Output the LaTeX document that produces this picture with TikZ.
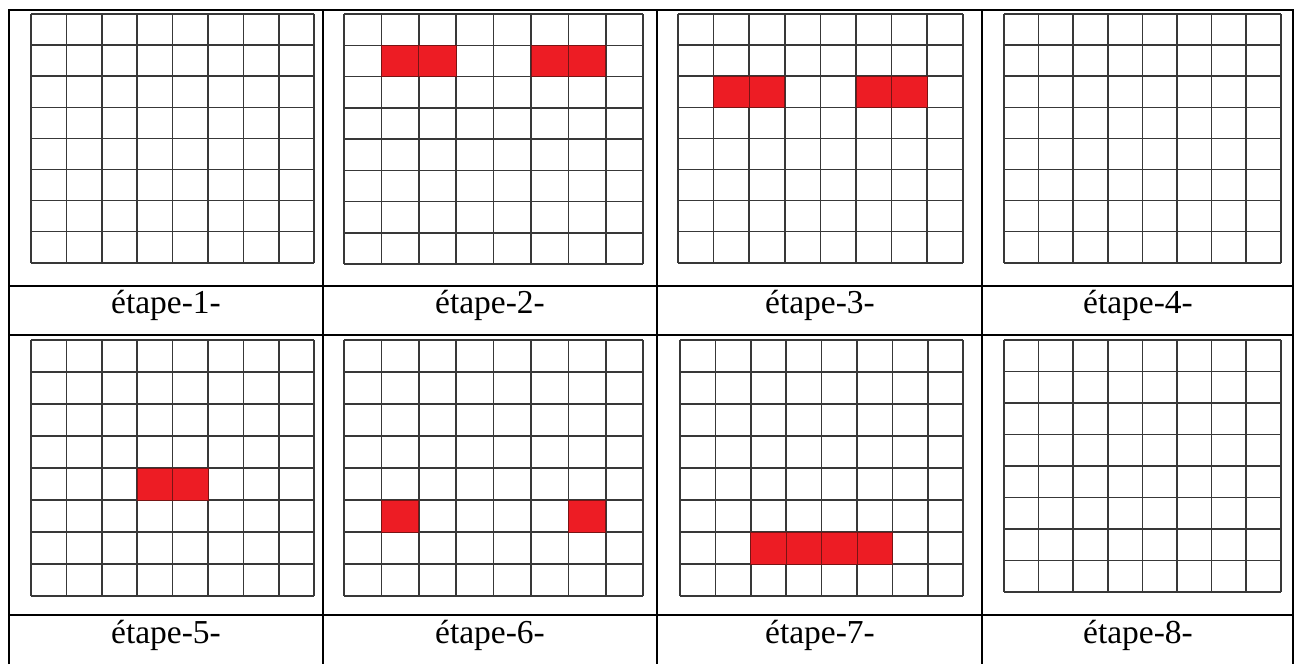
\documentclass[tikz,border=0pt]{standalone}
\usepackage{fontspec}
\setmainfont{Liberation Serif}
\tikzset{
  tableline/.style={line width=2pt, black},
  gridline/.style={line width=1.5pt, black!78},
  redcell/.style={fill={rgb,255:red,237;green,28;blue,36}, draw={rgb,255:red,120;green,20;blue,20}, line width=0.8pt},
  steplabel/.style={font=\fontsize{33.5}{36}\selectfont, inner sep=0pt, anchor=center}
}
\newcommand\mygrid[4]{%
  \begin{scope}[shift={(#1,#2)}, x=#3pt, y=-#4pt]
    \foreach \k in {0,...,8} {
      \draw[gridline] (\k,0) -- (\k,8);
      \draw[gridline] (0,\k) -- (8,\k);
    }
  \end{scope}}
\newcommand\mycell[6]{%
  \begin{scope}[shift={(#1,#2)}, x=#3pt, y=-#4pt]
    \filldraw[redcell] (#5,#6) rectangle ++(1,1);
  \end{scope}}
\begin{document}
\begin{tikzpicture}[x=1pt,y=-1pt]
\useasboundingbox (0,0) rectangle (1298,664);
\fill[white] (0,0) rectangle (1298,664);
% grids
\mygrid{31}{14}{35.4}{31.1}
\mygrid{344}{14}{37.4}{31.25}
\mygrid{678}{14}{35.6}{31.1}
\mygrid{1004}{14}{34.6}{31.1}
\mygrid{31}{340}{35.4}{32}
\mygrid{344}{340}{37.4}{32}
\mygrid{680}{340}{35.4}{32}
\mygrid{1004}{340}{34.6}{31.5}
% red cells
\mycell{344}{14}{37.4}{31.25}{1}{1}
\mycell{344}{14}{37.4}{31.25}{2}{1}
\mycell{344}{14}{37.4}{31.25}{5}{1}
\mycell{344}{14}{37.4}{31.25}{6}{1}
\mycell{678}{14}{35.6}{31.1}{1}{2}
\mycell{678}{14}{35.6}{31.1}{2}{2}
\mycell{678}{14}{35.6}{31.1}{5}{2}
\mycell{678}{14}{35.6}{31.1}{6}{2}
\mycell{31}{340}{35.4}{32}{3}{4}
\mycell{31}{340}{35.4}{32}{4}{4}
\mycell{344}{340}{37.4}{32}{1}{5}
\mycell{344}{340}{37.4}{32}{6}{5}
\mycell{680}{340}{35.4}{32}{2}{6}
\mycell{680}{340}{35.4}{32}{3}{6}
\mycell{680}{340}{35.4}{32}{4}{6}
\mycell{680}{340}{35.4}{32}{5}{6}
% table lines
\draw[tableline] (9,664) -- (9,10) -- (1293,10) -- (1293,664);
\foreach \xx in {323,657,982} \draw[tableline] (\xx,10) -- (\xx,664);
\foreach \yy in {286,335,615} \draw[tableline] (9,\yy) -- (1293,\yy);
% labels
\node[steplabel] (l1) at (166,305) {étape-1-};
\node[steplabel] (l2) at (490,305) {étape-2-};
\node[steplabel] (l3) at (820,305) {étape-3-};
\node[steplabel] (l4) at (1138,305) {étape-4-};
\node[steplabel] (l5) at (166,635) {étape-5-};
\node[steplabel] (l6) at (490,635) {étape-6-};
\node[steplabel] (l7) at (820,635) {étape-7-};
\node[steplabel] (l8) at (1138,635) {étape-8-};
\end{tikzpicture}
\end{document}
